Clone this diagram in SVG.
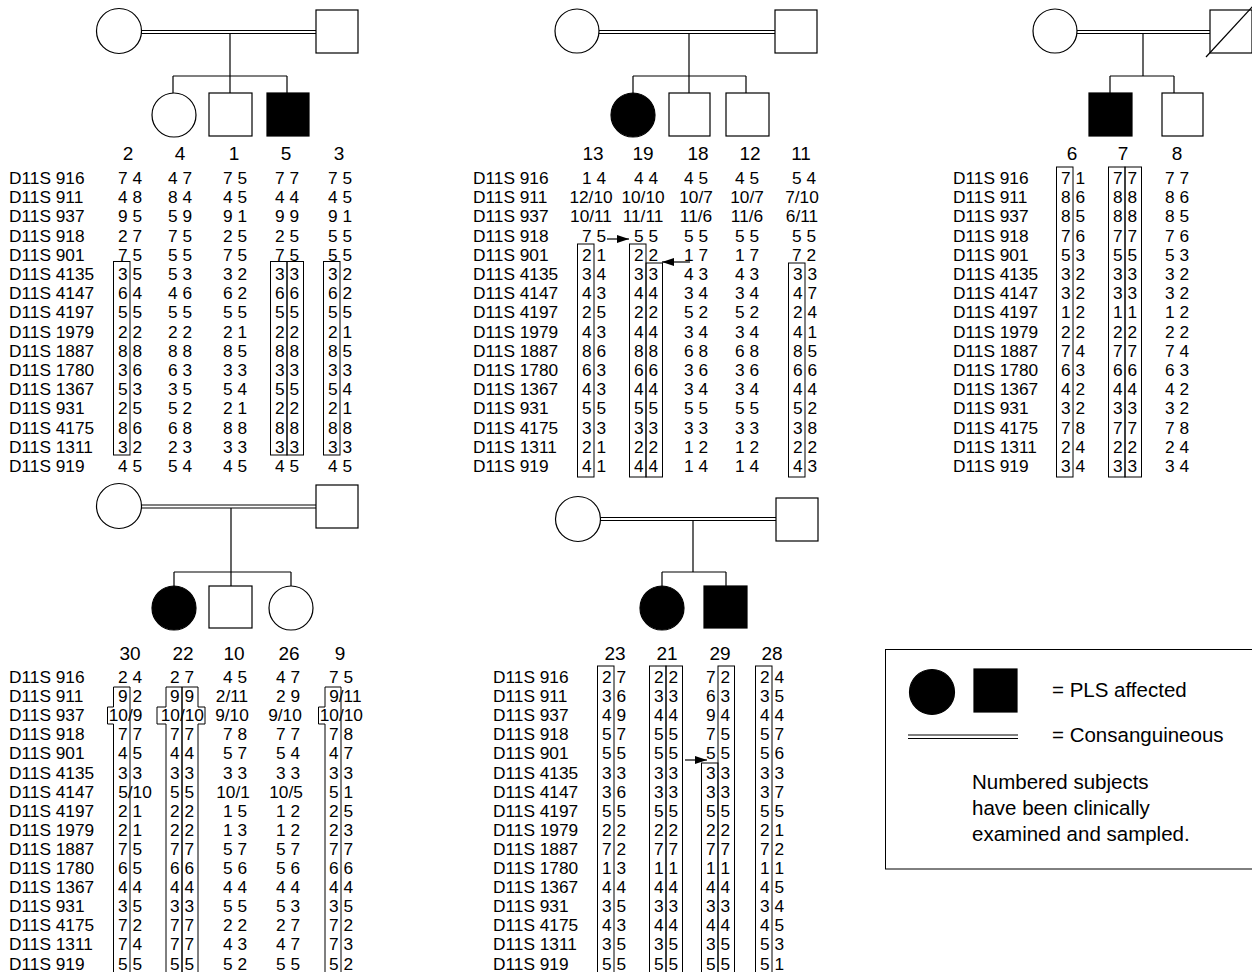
<svg xmlns="http://www.w3.org/2000/svg" width="1252" height="972" viewBox="0 0 1252 972">
<style>
text{font-family:"Liberation Sans",Arial,Helvetica,sans-serif;fill:#000}
.m{font-size:17.3px}
.v{font-size:17.3px;text-anchor:middle}
.s{font-size:17.3px}
.h{font-size:19px;text-anchor:middle}
.lg{font-size:20.5px}
.p{fill:#fff;stroke:#000;stroke-width:1.2}
.a{fill:#000;stroke:#000;stroke-width:1.2}
.ln{stroke:#000;stroke-width:1.2;fill:none}
.bx{fill:none;stroke:#000;stroke-width:1}
</style>
<defs>
<marker id="ah" viewBox="0 0 12 8" refX="12" refY="4" markerWidth="12" markerHeight="8" markerUnits="userSpaceOnUse" orient="auto"><path d="M0,0 L12,4 L0,8 Z" fill="#000"/></marker>
</defs>
<rect width="1252" height="972" fill="#fff"/>

<g id="connectors">
<!-- family 1 -->
<path class="ln" d="M141,30.5 H316 M141,33.5 H316"/>
<path class="ln" d="M230,33.5 V76 M173,76 H287 M173,76 V93 M230,76 V93 M287,76 V93"/>
<!-- family 2 -->
<path class="ln" d="M599,30.5 H775 M599,33.5 H775"/>
<path class="ln" d="M689,33.5 V76 M633,76 H746 M633,76 V93 M689,76 V93 M746,76 V93"/>
<!-- family 3 -->
<path class="ln" d="M1077,30.5 H1210 M1077,33.5 H1210"/>
<path class="ln" d="M1143,33.5 V76 M1110,76 H1174 M1110,76 V93 M1174,76 V93"/>
<!-- family 4 -->
<path class="ln" d="M141,505 H316 M141,508 H316"/>
<path class="ln" d="M231,508 V572 M174,572 H291 M174,572 V586 M231,572 V586 M291,572 V586"/>
<!-- family 5 -->
<path class="ln" d="M600,517.5 H776 M600,520.5 H776"/>
<path class="ln" d="M693,520.5 V572 M662,572 H726 M662,572 V586 M726,572 V586"/>
<!-- arrows -->
<line class="ln" x1="607" y1="239" x2="629" y2="239" marker-end="url(#ah)"/>
<line class="ln" x1="690" y1="262" x2="662" y2="262" marker-end="url(#ah)"/>
<line class="ln" x1="685" y1="760" x2="707" y2="760" marker-end="url(#ah)"/>
</g>

<!-- Family 1 -->
<g id="f1-mother"><circle class="p" cx="119" cy="31" r="22.5"/></g>
<g id="f1-father"><rect class="p" x="316" y="10" width="42" height="43"/></g>
<g id="f1-child4"><circle class="p" cx="174" cy="115" r="22"/></g>
<g id="f1-child1"><rect class="p" x="209" y="93" width="43" height="43"/></g>
<g id="f1-child5"><rect class="a" x="267" y="93" width="42" height="43"/></g>

<!-- Family 2 -->
<g id="f2-mother"><circle class="p" cx="577" cy="31" r="22"/></g>
<g id="f2-father"><rect class="p" x="775" y="10" width="42" height="43"/></g>
<g id="f2-child19"><circle class="a" cx="633" cy="115" r="22"/></g>
<g id="f2-child18"><rect class="p" x="669" y="93" width="41" height="43"/></g>
<g id="f2-child12"><rect class="p" x="726" y="93" width="43" height="43"/></g>

<!-- Family 3 -->
<g id="f3-mother"><circle class="p" cx="1055" cy="31" r="22"/></g>
<g id="f3-father"><rect class="p" x="1210" y="10" width="42" height="43"/><line class="ln" x1="1206" y1="57" x2="1254" y2="5"/></g>
<g id="f3-child7"><rect class="a" x="1089" y="93" width="43" height="43"/></g>
<g id="f3-child8"><rect class="p" x="1162" y="93" width="41" height="43"/></g>

<!-- Family 4 -->
<g id="f4-mother"><circle class="p" cx="119" cy="506" r="22.5"/></g>
<g id="f4-father"><rect class="p" x="316" y="485" width="42" height="43"/></g>
<g id="f4-child22"><circle class="a" cx="174" cy="608" r="22"/></g>
<g id="f4-child10"><rect class="p" x="209" y="586" width="43" height="42"/></g>
<g id="f4-child26"><circle class="p" cx="291" cy="608" r="22"/></g>

<!-- Family 5 -->
<g id="f5-mother"><circle class="p" cx="578" cy="519" r="22.5"/></g>
<g id="f5-father"><rect class="p" x="776" y="498" width="42" height="43"/></g>
<g id="f5-child21"><circle class="a" cx="662" cy="608" r="22"/></g>
<g id="f5-child29"><rect class="a" x="704" y="586" width="43" height="42"/></g>

<!-- Table 1 -->
<g id="table1">
<text class="h"><tspan x="128" y="160">2</tspan><tspan x="180" y="160">4</tspan><tspan x="234" y="160">1</tspan><tspan x="286" y="160">5</tspan><tspan x="339" y="160">3</tspan></text>
<text class="m"><tspan x="9" y="184">D11S 916</tspan><tspan x="9" y="203">D11S 911</tspan><tspan x="9" y="222">D11S 937</tspan><tspan x="9" y="242">D11S 918</tspan><tspan x="9" y="261">D11S 901</tspan><tspan x="9" y="280">D11S 4135</tspan><tspan x="9" y="299">D11S 4147</tspan><tspan x="9" y="318">D11S 4197</tspan><tspan x="9" y="338">D11S 1979</tspan><tspan x="9" y="357">D11S 1887</tspan><tspan x="9" y="376">D11S 1780</tspan><tspan x="9" y="395">D11S 1367</tspan><tspan x="9" y="414">D11S 931</tspan><tspan x="9" y="434">D11S 4175</tspan><tspan x="9" y="453">D11S 1311</tspan><tspan x="9" y="472">D11S 919</tspan></text>
<text class="v"><tspan x="130" y="184">7 4</tspan><tspan x="130" y="203">4 8</tspan><tspan x="130" y="222">9 5</tspan><tspan x="130" y="242">2 7</tspan><tspan x="130" y="261">7 5</tspan><tspan x="130" y="280">3 5</tspan><tspan x="130" y="299">6 4</tspan><tspan x="130" y="318">5 5</tspan><tspan x="130" y="338">2 2</tspan><tspan x="130" y="357">8 8</tspan><tspan x="130" y="376">3 6</tspan><tspan x="130" y="395">5 3</tspan><tspan x="130" y="414">2 5</tspan><tspan x="130" y="434">8 6</tspan><tspan x="130" y="453">3 2</tspan><tspan x="130" y="472">4 5</tspan></text>
<text class="v"><tspan x="180" y="184">4 7</tspan><tspan x="180" y="203">8 4</tspan><tspan x="180" y="222">5 9</tspan><tspan x="180" y="242">7 5</tspan><tspan x="180" y="261">5 5</tspan><tspan x="180" y="280">5 3</tspan><tspan x="180" y="299">4 6</tspan><tspan x="180" y="318">5 5</tspan><tspan x="180" y="338">2 2</tspan><tspan x="180" y="357">8 8</tspan><tspan x="180" y="376">6 3</tspan><tspan x="180" y="395">3 5</tspan><tspan x="180" y="414">5 2</tspan><tspan x="180" y="434">6 8</tspan><tspan x="180" y="453">2 3</tspan><tspan x="180" y="472">5 4</tspan></text>
<text class="v"><tspan x="235" y="184">7 5</tspan><tspan x="235" y="203">4 5</tspan><tspan x="235" y="222">9 1</tspan><tspan x="235" y="242">2 5</tspan><tspan x="235" y="261">7 5</tspan><tspan x="235" y="280">3 2</tspan><tspan x="235" y="299">6 2</tspan><tspan x="235" y="318">5 5</tspan><tspan x="235" y="338">2 1</tspan><tspan x="235" y="357">8 5</tspan><tspan x="235" y="376">3 3</tspan><tspan x="235" y="395">5 4</tspan><tspan x="235" y="414">2 1</tspan><tspan x="235" y="434">8 8</tspan><tspan x="235" y="453">3 3</tspan><tspan x="235" y="472">4 5</tspan></text>
<text class="v"><tspan x="287" y="184">7 7</tspan><tspan x="287" y="203">4 4</tspan><tspan x="287" y="222">9 9</tspan><tspan x="287" y="242">2 5</tspan><tspan x="287" y="261">7 5</tspan><tspan x="287" y="280">3 3</tspan><tspan x="287" y="299">6 6</tspan><tspan x="287" y="318">5 5</tspan><tspan x="287" y="338">2 2</tspan><tspan x="287" y="357">8 8</tspan><tspan x="287" y="376">3 3</tspan><tspan x="287" y="395">5 5</tspan><tspan x="287" y="414">2 2</tspan><tspan x="287" y="434">8 8</tspan><tspan x="287" y="453">3 3</tspan><tspan x="287" y="472">4 5</tspan></text>
<text class="v"><tspan x="340" y="184">7 5</tspan><tspan x="340" y="203">4 5</tspan><tspan x="340" y="222">9 1</tspan><tspan x="340" y="242">5 5</tspan><tspan x="340" y="261">5 5</tspan><tspan x="340" y="280">3 2</tspan><tspan x="340" y="299">6 2</tspan><tspan x="340" y="318">5 5</tspan><tspan x="340" y="338">2 1</tspan><tspan x="340" y="357">8 5</tspan><tspan x="340" y="376">3 3</tspan><tspan x="340" y="395">5 4</tspan><tspan x="340" y="414">2 1</tspan><tspan x="340" y="434">8 8</tspan><tspan x="340" y="453">3 3</tspan><tspan x="340" y="472">4 5</tspan></text>
<rect class="bx" x="113.5" y="261.5" width="16.5" height="193.5"/>
<rect class="bx" x="270.5" y="261.5" width="16.5" height="193.5"/>
<rect class="bx" x="287" y="261.5" width="16.5" height="193.5"/>
<rect class="bx" x="323.5" y="261.5" width="16.5" height="193.5"/>
</g>

<!-- Table 2 -->
<g id="table2">
<text class="h"><tspan x="593" y="160">13</tspan><tspan x="643" y="160">19</tspan><tspan x="698" y="160">18</tspan><tspan x="750" y="160">12</tspan><tspan x="801" y="160">11</tspan></text>
<text class="m"><tspan x="473" y="184">D11S 916</tspan><tspan x="473" y="203">D11S 911</tspan><tspan x="473" y="222">D11S 937</tspan><tspan x="473" y="242">D11S 918</tspan><tspan x="473" y="261">D11S 901</tspan><tspan x="473" y="280">D11S 4135</tspan><tspan x="473" y="299">D11S 4147</tspan><tspan x="473" y="318">D11S 4197</tspan><tspan x="473" y="338">D11S 1979</tspan><tspan x="473" y="357">D11S 1887</tspan><tspan x="473" y="376">D11S 1780</tspan><tspan x="473" y="395">D11S 1367</tspan><tspan x="473" y="414">D11S 931</tspan><tspan x="473" y="434">D11S 4175</tspan><tspan x="473" y="453">D11S 1311</tspan><tspan x="473" y="472">D11S 919</tspan></text>
<text class="v"><tspan x="594" y="184">1 4</tspan><tspan x="591" y="203">12/10</tspan><tspan x="591" y="222">10/11</tspan><tspan x="594" y="242">7 5</tspan><tspan x="594" y="261">2 1</tspan><tspan x="594" y="280">3 4</tspan><tspan x="594" y="299">4 3</tspan><tspan x="594" y="318">2 5</tspan><tspan x="594" y="338">4 3</tspan><tspan x="594" y="357">8 6</tspan><tspan x="594" y="376">6 3</tspan><tspan x="594" y="395">4 3</tspan><tspan x="594" y="414">5 5</tspan><tspan x="594" y="434">3 3</tspan><tspan x="594" y="453">2 1</tspan><tspan x="594" y="472">4 1</tspan></text>
<text class="v"><tspan x="646" y="184">4 4</tspan><tspan x="643" y="203">10/10</tspan><tspan x="643" y="222">11/11</tspan><tspan x="646" y="242">5 5</tspan><tspan x="646" y="261">2 2</tspan><tspan x="646" y="280">3 3</tspan><tspan x="646" y="299">4 4</tspan><tspan x="646" y="318">2 2</tspan><tspan x="646" y="338">4 4</tspan><tspan x="646" y="357">8 8</tspan><tspan x="646" y="376">6 6</tspan><tspan x="646" y="395">4 4</tspan><tspan x="646" y="414">5 5</tspan><tspan x="646" y="434">3 3</tspan><tspan x="646" y="453">2 2</tspan><tspan x="646" y="472">4 4</tspan></text>
<text class="v"><tspan x="696" y="184">4 5</tspan><tspan x="696" y="203">10/7</tspan><tspan x="696" y="222">11/6</tspan><tspan x="696" y="242">5 5</tspan><tspan x="696" y="261">1 7</tspan><tspan x="696" y="280">4 3</tspan><tspan x="696" y="299">3 4</tspan><tspan x="696" y="318">5 2</tspan><tspan x="696" y="338">3 4</tspan><tspan x="696" y="357">6 8</tspan><tspan x="696" y="376">3 6</tspan><tspan x="696" y="395">3 4</tspan><tspan x="696" y="414">5 5</tspan><tspan x="696" y="434">3 3</tspan><tspan x="696" y="453">1 2</tspan><tspan x="696" y="472">1 4</tspan></text>
<text class="v"><tspan x="747" y="184">4 5</tspan><tspan x="747" y="203">10/7</tspan><tspan x="747" y="222">11/6</tspan><tspan x="747" y="242">5 5</tspan><tspan x="747" y="261">1 7</tspan><tspan x="747" y="280">4 3</tspan><tspan x="747" y="299">3 4</tspan><tspan x="747" y="318">5 2</tspan><tspan x="747" y="338">3 4</tspan><tspan x="747" y="357">6 8</tspan><tspan x="747" y="376">3 6</tspan><tspan x="747" y="395">3 4</tspan><tspan x="747" y="414">5 5</tspan><tspan x="747" y="434">3 3</tspan><tspan x="747" y="453">1 2</tspan><tspan x="747" y="472">1 4</tspan></text>
<text class="v"><tspan x="804" y="184">5 4</tspan><tspan x="802" y="203">7/10</tspan><tspan x="802" y="222">6/11</tspan><tspan x="804" y="242">5  5</tspan><tspan x="804" y="261">7 2</tspan><tspan x="805" y="280">3 3</tspan><tspan x="805" y="299">4 7</tspan><tspan x="805" y="318">2 4</tspan><tspan x="805" y="338">4 1</tspan><tspan x="805" y="357">8 5</tspan><tspan x="805" y="376">6 6</tspan><tspan x="805" y="395">4 4</tspan><tspan x="805" y="414">5 2</tspan><tspan x="805" y="434">3 8</tspan><tspan x="805" y="453">2 2</tspan><tspan x="805" y="472">4 3</tspan></text>
<rect class="bx" x="577.5" y="244" width="16.5" height="233"/>
<rect class="bx" x="629.5" y="244" width="16.5" height="233"/>
<rect class="bx" x="646" y="263" width="16.5" height="214"/>
<rect class="bx" x="788.5" y="263" width="16.5" height="214"/>
</g>

<!-- Table 3 -->
<g id="table3">
<text class="h"><tspan x="1072" y="160">6</tspan><tspan x="1123" y="160">7</tspan><tspan x="1177" y="160">8</tspan></text>
<text class="m"><tspan x="953" y="184">D11S 916</tspan><tspan x="953" y="203">D11S 911</tspan><tspan x="953" y="222">D11S 937</tspan><tspan x="953" y="242">D11S 918</tspan><tspan x="953" y="261">D11S 901</tspan><tspan x="953" y="280">D11S 4135</tspan><tspan x="953" y="299">D11S 4147</tspan><tspan x="953" y="318">D11S 4197</tspan><tspan x="953" y="338">D11S 1979</tspan><tspan x="953" y="357">D11S 1887</tspan><tspan x="953" y="376">D11S 1780</tspan><tspan x="953" y="395">D11S 1367</tspan><tspan x="953" y="414">D11S 931</tspan><tspan x="953" y="434">D11S 4175</tspan><tspan x="953" y="453">D11S 1311</tspan><tspan x="953" y="472">D11S 919</tspan></text>
<text class="v"><tspan x="1073" y="184">7 1</tspan><tspan x="1073" y="203">8 6</tspan><tspan x="1073" y="222">8 5</tspan><tspan x="1073" y="242">7 6</tspan><tspan x="1073" y="261">5 3</tspan><tspan x="1073" y="280">3 2</tspan><tspan x="1073" y="299">3 2</tspan><tspan x="1073" y="318">1 2</tspan><tspan x="1073" y="338">2 2</tspan><tspan x="1073" y="357">7 4</tspan><tspan x="1073" y="376">6 3</tspan><tspan x="1073" y="395">4 2</tspan><tspan x="1073" y="414">3 2</tspan><tspan x="1073" y="434">7 8</tspan><tspan x="1073" y="453">2 4</tspan><tspan x="1073" y="472">3 4</tspan></text>
<text class="v"><tspan x="1125" y="184">7 7</tspan><tspan x="1125" y="203">8 8</tspan><tspan x="1125" y="222">8 8</tspan><tspan x="1125" y="242">7 7</tspan><tspan x="1125" y="261">5 5</tspan><tspan x="1125" y="280">3 3</tspan><tspan x="1125" y="299">3 3</tspan><tspan x="1125" y="318">1 1</tspan><tspan x="1125" y="338">2 2</tspan><tspan x="1125" y="357">7 7</tspan><tspan x="1125" y="376">6 6</tspan><tspan x="1125" y="395">4 4</tspan><tspan x="1125" y="414">3 3</tspan><tspan x="1125" y="434">7 7</tspan><tspan x="1125" y="453">2 2</tspan><tspan x="1125" y="472">3 3</tspan></text>
<text class="v"><tspan x="1177" y="184">7 7</tspan><tspan x="1177" y="203">8 6</tspan><tspan x="1177" y="222">8 5</tspan><tspan x="1177" y="242">7 6</tspan><tspan x="1177" y="261">5 3</tspan><tspan x="1177" y="280">3 2</tspan><tspan x="1177" y="299">3 2</tspan><tspan x="1177" y="318">1 2</tspan><tspan x="1177" y="338">2 2</tspan><tspan x="1177" y="357">7 4</tspan><tspan x="1177" y="376">6 3</tspan><tspan x="1177" y="395">4 2</tspan><tspan x="1177" y="414">3 2</tspan><tspan x="1177" y="434">7 8</tspan><tspan x="1177" y="453">2 4</tspan><tspan x="1177" y="472">3 4</tspan></text>
<rect class="bx" x="1056.5" y="167" width="16.5" height="310"/>
<rect class="bx" x="1108.5" y="167" width="16.5" height="310"/>
<rect class="bx" x="1125" y="167" width="16.5" height="310"/>
</g>

<!-- Table 4 -->
<g id="table4">
<text class="h"><tspan x="130" y="660">30</tspan><tspan x="183" y="660">22</tspan><tspan x="234" y="660">10</tspan><tspan x="289" y="660">26</tspan><tspan x="340" y="660">9</tspan></text>
<text class="m"><tspan x="9" y="683">D11S 916</tspan><tspan x="9" y="702">D11S 911</tspan><tspan x="9" y="721">D11S 937</tspan><tspan x="9" y="740">D11S 918</tspan><tspan x="9" y="759">D11S 901</tspan><tspan x="9" y="779">D11S 4135</tspan><tspan x="9" y="798">D11S 4147</tspan><tspan x="9" y="817">D11S 4197</tspan><tspan x="9" y="836">D11S 1979</tspan><tspan x="9" y="855">D11S 1887</tspan><tspan x="9" y="874">D11S 1780</tspan><tspan x="9" y="893">D11S 1367</tspan><tspan x="9" y="912">D11S 931</tspan><tspan x="9" y="931">D11S 4175</tspan><tspan x="9" y="950">D11S 1311</tspan><tspan x="9" y="970">D11S 919</tspan></text>
<text class="v"><tspan x="130" y="683">2 4</tspan><tspan x="130" y="702">9 2</tspan><tspan x="130" y="740">7 7</tspan><tspan x="130" y="759">4 5</tspan><tspan x="130" y="779">3 3</tspan><tspan x="130" y="817">2 1</tspan><tspan x="130" y="836">2 1</tspan><tspan x="130" y="855">7 5</tspan><tspan x="130" y="874">6 5</tspan><tspan x="130" y="893">4 4</tspan><tspan x="130" y="912">3 5</tspan><tspan x="130" y="931">7 2</tspan><tspan x="130" y="950">7 4</tspan><tspan x="130" y="970">5 5</tspan></text>
<text class="s"><tspan x="108.7" y="721">10/9</tspan><tspan x="118.2" y="798">5/10</tspan></text>
<text class="v"><tspan x="182" y="683">2 7</tspan><tspan x="182" y="702">9 9</tspan><tspan x="182" y="740">7 7</tspan><tspan x="182" y="759">4 4</tspan><tspan x="182" y="779">3 3</tspan><tspan x="182" y="798">5 5</tspan><tspan x="182" y="817">2 2</tspan><tspan x="182" y="836">2 2</tspan><tspan x="182" y="855">7 7</tspan><tspan x="182" y="874">6 6</tspan><tspan x="182" y="893">4 4</tspan><tspan x="182" y="912">3 3</tspan><tspan x="182" y="931">7 7</tspan><tspan x="182" y="950">7 7</tspan><tspan x="182" y="970">5 5</tspan></text>
<text class="s"><tspan x="160.7" y="721">10/10</tspan></text>
<text class="v"><tspan x="235" y="683">4 5</tspan><tspan x="232" y="702">2/11</tspan><tspan x="232" y="721">9/10</tspan><tspan x="235" y="740">7 8</tspan><tspan x="235" y="759">5 7</tspan><tspan x="235" y="779">3 3</tspan><tspan x="233" y="798">10/1</tspan><tspan x="235" y="817">1 5</tspan><tspan x="235" y="836">1 3</tspan><tspan x="235" y="855">5 7</tspan><tspan x="235" y="874">5 6</tspan><tspan x="235" y="893">4 4</tspan><tspan x="235" y="912">5 5</tspan><tspan x="235" y="931">2 2</tspan><tspan x="235" y="950">4 3</tspan><tspan x="235" y="970">5 2</tspan></text>
<text class="v"><tspan x="288" y="683">4 7</tspan><tspan x="288" y="702">2 9</tspan><tspan x="285" y="721">9/10</tspan><tspan x="288" y="740">7 7</tspan><tspan x="288" y="759">5 4</tspan><tspan x="288" y="779">3 3</tspan><tspan x="286" y="798">10/5</tspan><tspan x="288" y="817">1 2</tspan><tspan x="288" y="836">1 2</tspan><tspan x="288" y="855">5 7</tspan><tspan x="288" y="874">5 6</tspan><tspan x="288" y="893">4 4</tspan><tspan x="288" y="912">5 3</tspan><tspan x="288" y="931">2 7</tspan><tspan x="288" y="950">4 7</tspan><tspan x="288" y="970">5 5</tspan></text>
<text class="v"><tspan x="341" y="683">7 5</tspan><tspan x="341" y="740">7 8</tspan><tspan x="341" y="759">4 7</tspan><tspan x="341" y="779">3 3</tspan><tspan x="341" y="798">5 1</tspan><tspan x="341" y="817">2 5</tspan><tspan x="341" y="836">2 3</tspan><tspan x="341" y="855">7 7</tspan><tspan x="341" y="874">6 6</tspan><tspan x="341" y="893">4 4</tspan><tspan x="341" y="912">3 5</tspan><tspan x="341" y="931">7 2</tspan><tspan x="341" y="950">7 3</tspan><tspan x="341" y="970">5 2</tspan></text>
<text class="s"><tspan x="329.2" y="702">9/11</tspan><tspan x="319.7" y="721">10/10</tspan></text>
<path class="bx" d="M113.5,687 H130 V980 H113.5 V724 H107.5 V707 H113.5 Z"/>
<path class="bx" d="M166,687 H182 V980 H166 V724 H157 V707 H166 Z"/>
<path class="bx" d="M182,687 H198 V707 H205 V724 H198 V980 H182 Z"/>
<path class="bx" d="M325,687 H341 V980 H325 V724 H318.5 V707 H325 Z"/>
</g>

<!-- Table 5 -->
<g id="table5">
<text class="h"><tspan x="615" y="660">23</tspan><tspan x="667" y="660">21</tspan><tspan x="720" y="660">29</tspan><tspan x="772" y="660">28</tspan></text>
<text class="m"><tspan x="493" y="683">D11S 916</tspan><tspan x="493" y="702">D11S 911</tspan><tspan x="493" y="721">D11S 937</tspan><tspan x="493" y="740">D11S 918</tspan><tspan x="493" y="759">D11S 901</tspan><tspan x="493" y="779">D11S 4135</tspan><tspan x="493" y="798">D11S 4147</tspan><tspan x="493" y="817">D11S 4197</tspan><tspan x="493" y="836">D11S 1979</tspan><tspan x="493" y="855">D11S 1887</tspan><tspan x="493" y="874">D11S 1780</tspan><tspan x="493" y="893">D11S 1367</tspan><tspan x="493" y="912">D11S 931</tspan><tspan x="493" y="931">D11S 4175</tspan><tspan x="493" y="950">D11S 1311</tspan><tspan x="493" y="970">D11S 919</tspan></text>
<text class="v"><tspan x="614" y="683">2 7</tspan><tspan x="614" y="702">3 6</tspan><tspan x="614" y="721">4 9</tspan><tspan x="614" y="740">5 7</tspan><tspan x="614" y="759">5 5</tspan><tspan x="614" y="779">3 3</tspan><tspan x="614" y="798">3 6</tspan><tspan x="614" y="817">5 5</tspan><tspan x="614" y="836">2 2</tspan><tspan x="614" y="855">7 2</tspan><tspan x="614" y="874">1 3</tspan><tspan x="614" y="893">4 4</tspan><tspan x="614" y="912">3 5</tspan><tspan x="614" y="931">4 3</tspan><tspan x="614" y="950">3 5</tspan><tspan x="614" y="970">5 5</tspan></text>
<text class="v"><tspan x="666" y="683">2 2</tspan><tspan x="666" y="702">3 3</tspan><tspan x="666" y="721">4 4</tspan><tspan x="666" y="740">5 5</tspan><tspan x="666" y="759">5 5</tspan><tspan x="666" y="779">3 3</tspan><tspan x="666" y="798">3 3</tspan><tspan x="666" y="817">5 5</tspan><tspan x="666" y="836">2 2</tspan><tspan x="666" y="855">7 7</tspan><tspan x="666" y="874">1 1</tspan><tspan x="666" y="893">4 4</tspan><tspan x="666" y="912">3 3</tspan><tspan x="666" y="931">4 4</tspan><tspan x="666" y="950">3 5</tspan><tspan x="666" y="970">5 5</tspan></text>
<text class="v"><tspan x="718" y="683">7 2</tspan><tspan x="718" y="702">6 3</tspan><tspan x="718" y="721">9 4</tspan><tspan x="718" y="740">7 5</tspan><tspan x="718" y="759">5 5</tspan><tspan x="718" y="779">3 3</tspan><tspan x="718" y="798">3 3</tspan><tspan x="718" y="817">5 5</tspan><tspan x="718" y="836">2 2</tspan><tspan x="718" y="855">7 7</tspan><tspan x="718" y="874">1 1</tspan><tspan x="718" y="893">4 4</tspan><tspan x="718" y="912">3 3</tspan><tspan x="718" y="931">4 4</tspan><tspan x="718" y="950">3 5</tspan><tspan x="718" y="970">5 5</tspan></text>
<text class="v"><tspan x="772" y="683">2 4</tspan><tspan x="772" y="702">3 5</tspan><tspan x="772" y="721">4 4</tspan><tspan x="772" y="740">5 7</tspan><tspan x="772" y="759">5 6</tspan><tspan x="772" y="779">3 3</tspan><tspan x="772" y="798">3 7</tspan><tspan x="772" y="817">5 5</tspan><tspan x="772" y="836">2 1</tspan><tspan x="772" y="855">7 2</tspan><tspan x="772" y="874">1 1</tspan><tspan x="772" y="893">4 5</tspan><tspan x="772" y="912">3 4</tspan><tspan x="772" y="931">4 5</tspan><tspan x="772" y="950">5 3</tspan><tspan x="772" y="970">5 1</tspan></text>
<rect class="bx" x="597.5" y="666" width="16.5" height="314"/>
<rect class="bx" x="649.5" y="666" width="16.5" height="314"/>
<rect class="bx" x="666" y="666" width="16.5" height="314"/>
<rect class="bx" x="701.5" y="763" width="16.5" height="217"/>
<rect class="bx" x="718" y="666" width="16.5" height="314"/>
<rect class="bx" x="755.5" y="666" width="16.5" height="314"/>
</g>

<!-- Legend -->
<g id="legend">
<rect x="885.5" y="649.5" width="380" height="219.5" fill="none" stroke="#000" stroke-width="1"/>
<circle class="a" cx="932" cy="692" r="22.5"/>
<rect class="a" x="974" y="669" width="43" height="43"/>
<path class="ln" d="M908,735 H1018 M908,738.5 H1018"/>
<text class="lg" x="1052" y="697">= PLS affected</text>
<text class="lg" x="1052" y="742">= Consanguineous</text>
<text class="lg"><tspan x="972" y="789">Numbered subjects</tspan><tspan x="972" y="815">have been clinically</tspan><tspan x="972" y="841">examined and sampled.</tspan></text>
</g>
</svg>
